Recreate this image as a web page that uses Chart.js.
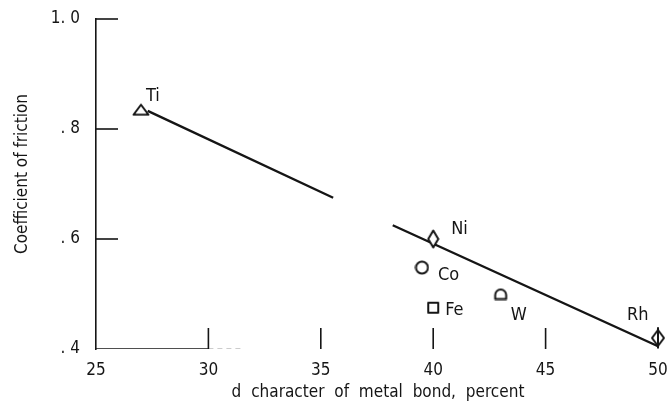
<!DOCTYPE html>
<html>
<head>
<meta charset="utf-8">
<title>Coefficient of friction vs d character</title>
<script src="https://cdn.jsdelivr.net/npm/chart.js@4/dist/chart.umd.min.js"></script>
<style>
    html, body { margin: 0; padding: 0; background: #fff; }
    #wrap { width: 671px; height: 407px; position: relative; }
</style>
</head>
<body>
<div id="wrap"><canvas id="chart"></canvas></div>
<script>
// Data
const metals = ['Ti', 'Ni', 'Co', 'Fe', 'W', 'Rh'];
const dCharacter = [27, 40, 39.5, 40, 43, 50];
const friction = [0.835, 0.60, 0.548, 0.475, 0.50, 0.42];

// Fitted line (drawn with a break between about 35.5 and 38)
const fitX = [27.3, 35.55, 36.9, 38.2, 50];
const fitY = [0.833, 0.675, null, 0.625, 0.405];

// Pieces of the bottom axis that are visible in the scan
const axisSolidX = [25, 30];
const axisDashX = [30, 31.6];
const axisY = 0.4;

// Tick values
const xTicks = [25, 30, 35, 40, 45, 50];
const yTicks = [0.4, 0.6, 0.8, 1.0];
const yTickLabels = ['. 4', '. 6', '. 8', '1. 0'];
const xTickMarks = [30, 35, 40, 45];
const yTickMarks = [0.6, 0.8, 1.0];

const INK = '#151515';
const FONT = '"Liberation Sans Narrow", "DejaVu Sans Condensed", "Liberation Sans", sans-serif';

// Label offsets in pixels from each marker (left edge, vertical centre)
const labelOffsets = {
    Ti: [5, -13], Ni: [18, -10], Co: [16, 8], Fe: [12, 3], W: [10, 21], Rh: [-31, -23]
};

// Marker images
function makeMarker(kind) {
    const c = document.createElement('canvas');
    const sizes = { tri: [18, 13], diamond: [13, 20], circle: [15, 15], square: [14, 14], dome: [16, 13], rh: [16, 23] };
    c.width = sizes[kind][0];
    c.height = sizes[kind][1];
    const g = c.getContext('2d');
    g.strokeStyle = INK;
    g.fillStyle = '#fff';
    g.lineWidth = 2;
    g.lineJoin = 'round';
    g.beginPath();
    if (kind === 'tri') {
        g.moveTo(1.5, 11.5); g.lineTo(9, 1.5); g.lineTo(16.5, 11.5); g.closePath();
    } else if (kind === 'diamond') {
        g.moveTo(6.5, 1.5); g.lineTo(11.5, 10); g.lineTo(6.5, 18.5); g.lineTo(1.5, 10); g.closePath();
    } else if (kind === 'circle') {
        g.arc(7.5, 7.5, 6, 0, Math.PI * 2);
    } else if (kind === 'square') {
        g.rect(2, 2, 10, 10);
    } else if (kind === 'dome') {
        g.moveTo(2.5, 11.5); g.lineTo(2.5, 7.5); g.arc(8, 7.5, 5.5, Math.PI, 0); g.lineTo(13.5, 11.5); g.closePath();
    } else if (kind === 'rh') {
        g.moveTo(8, 3.5); g.lineTo(14, 11.5); g.lineTo(8, 19.5); g.lineTo(2, 11.5); g.closePath();
    }
    g.fill();
    g.stroke();
    if (kind === 'rh') {
        g.beginPath(); g.moveTo(8, 0.5); g.lineTo(8, 22); g.stroke();
    }
    return c;
}
const markerStyles = ['tri', 'diamond', 'circle', 'square', 'dome', 'rh'].map(makeMarker);

// Tick marks, element labels and axis titles
const decorPlugin = {
    id: 'decor',
    afterDatasetsDraw(chart) {
        const { ctx, scales: { x, y }, chartArea } = chart;
        ctx.save();
        ctx.strokeStyle = INK;
        ctx.lineWidth = 1.6;
        yTickMarks.forEach(v => {
            const py = y.getPixelForValue(v);
            ctx.beginPath(); ctx.moveTo(chartArea.left, py); ctx.lineTo(chartArea.left + 22, py); ctx.stroke();
        });
        xTickMarks.forEach(v => {
            const px = x.getPixelForValue(v);
            ctx.beginPath(); ctx.moveTo(px, chartArea.bottom); ctx.lineTo(px, chartArea.bottom - 21); ctx.stroke();
        });

        ctx.fillStyle = INK;
        ctx.font = '18px ' + FONT;
        ctx.textAlign = 'left';
        ctx.textBaseline = 'middle';
        metals.forEach((m, i) => {
            const px = x.getPixelForValue(dCharacter[i]);
            const py = y.getPixelForValue(friction[i]);
            const off = labelOffsets[m];
            ctx.fillText(m, px + off[0], py + off[1]);
        });

        ctx.font = '17px ' + FONT;
        ctx.textAlign = 'center';
        ctx.wordSpacing = '5px';
        ctx.fillText('d character of metal bond, percent', 378, 393);
        ctx.wordSpacing = '0px';
        ctx.translate(23, 174);
        ctx.rotate(-Math.PI / 2);
        ctx.fillText('Coefficient of friction', 0, 0);
        ctx.restore();
    }
};

// Drop the extra room Chart.js keeps for edge tick labels
function noEdgePadding(scale) {
    scale.paddingTop = 0;
    scale.paddingBottom = 0;
    scale.paddingLeft = 0;
    scale.paddingRight = 0;
}

const ctx = document.getElementById('chart').getContext('2d');
new Chart(ctx, {
    type: 'scatter',
    data: {
        datasets: [
            {
                label: 'Fit',
                type: 'line',
                data: fitX.map((v, i) => ({ x: v, y: fitY[i] })),
                borderColor: INK,
                borderWidth: 2.4,
                pointRadius: 0,
                spanGaps: false,
                tension: 0,
                order: 2
            },
            {
                label: 'Axis',
                type: 'line',
                data: axisSolidX.map(v => ({ x: v, y: axisY })),
                borderColor: INK,
                borderWidth: 1.6,
                pointRadius: 0,
                order: 3
            },
            {
                label: 'Axis dashed',
                type: 'line',
                data: axisDashX.map(v => ({ x: v, y: axisY })),
                borderColor: '#9a9a9a',
                borderWidth: 1.2,
                borderDash: [5, 4],
                pointRadius: 0,
                order: 3
            },
            {
                label: 'Metals',
                data: dCharacter.map((v, i) => ({ x: v, y: friction[i] })),
                pointStyle: markerStyles,
                pointRadius: 7,
                clip: false,
                order: 1
            }
        ]
    },
    options: {
        responsive: true,
        maintainAspectRatio: false,
        animation: false,
        layout: { padding: { top: 19, right: 13, left: 0, bottom: 0 } },
        plugins: { legend: { display: false }, tooltip: { enabled: false } },
        scales: {
            x: {
                type: 'linear',
                min: 25,
                max: 50,
                afterFit(scale) { scale.height = 58; noEdgePadding(scale); },
                afterBuildTicks(scale) { scale.ticks = xTicks.map(v => ({ value: v })); },
                grid: { display: false, drawTicks: false },
                border: { display: false },
                ticks: { color: INK, padding: 11, font: { family: FONT, size: 17 } }
            },
            y: {
                type: 'linear',
                min: 0.4,
                max: 1.0,
                afterFit(scale) { scale.width = 96; noEdgePadding(scale); },
                afterBuildTicks(scale) { scale.ticks = yTicks.map(v => ({ value: v })); },
                grid: { display: false, drawTicks: false },
                border: { display: true, color: INK, width: 1.6 },
                ticks: {
                    color: INK,
                    padding: 16,
                    font: { family: FONT, size: 17 },
                    callback: (v, i) => yTickLabels[i]
                }
            }
        }
    },
    plugins: [decorPlugin]
});
</script>
</body>
</html>
